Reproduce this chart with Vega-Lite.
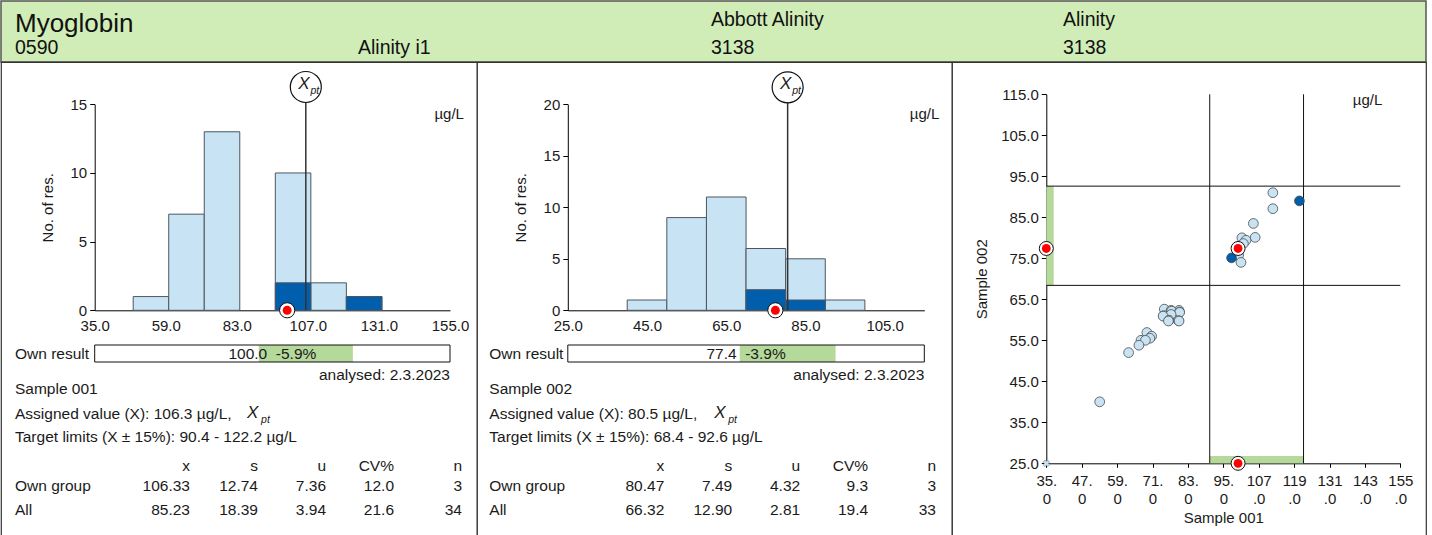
{
 "$schema": "https://vega.github.io/schema/vega-lite/v6.json",
 "padding": 0,
 "background": "white",
 "spacing": 0,
 "bounds": "flush",
 "config": {
  "font": "Liberation Sans",
  "view": {"stroke": null},
  "axis": {"grid": false, "labelFontSize": 15, "titleFontSize": 15, "titleFontWeight": "normal", "labelColor": "#1a1a1a", "titleColor": "#1a1a1a", "domainColor": "#000", "tickColor": "#000", "domainWidth": 1, "tickWidth": 1, "labelFlush": false, "labelOverlap": false, "labelBound": false},
  "text": {"color": "#1a1a1a", "fontSize": 15.5}
 },
 "datasets": {
  "hdr": [
   {"col": 0, "row": 2, "text": "0590"},
   {"col": 1, "row": 2, "text": "Alinity i1"},
   {"col": 2, "row": 1, "text": "Abbott Alinity"},
   {"col": 2, "row": 2, "text": "3138"},
   {"col": 3, "row": 1, "text": "Alinity"},
   {"col": 3, "row": 2, "text": "3138"}
  ],
  "analyte": [{"name": "Myoglobin"}],
  "bins1": [
   {"lo": 48, "hi": 60, "n": 1, "grp": "All"},
   {"lo": 60, "hi": 72, "n": 7, "grp": "All"},
   {"lo": 72, "hi": 84, "n": 13, "grp": "All"},
   {"lo": 96, "hi": 108, "n": 10, "grp": "All"},
   {"lo": 108, "hi": 120, "n": 2, "grp": "All"},
   {"lo": 120, "hi": 132, "n": 1, "grp": "All"},
   {"lo": 96, "hi": 108, "n": 2, "grp": "Own"},
   {"lo": 120, "hi": 132, "n": 1, "grp": "Own"}
  ],
  "bins2": [
   {"lo": 40, "hi": 50, "n": 1, "grp": "All"},
   {"lo": 50, "hi": 60, "n": 9, "grp": "All"},
   {"lo": 60, "hi": 70, "n": 11, "grp": "All"},
   {"lo": 70, "hi": 80, "n": 6, "grp": "All"},
   {"lo": 80, "hi": 90, "n": 5, "grp": "All"},
   {"lo": 90, "hi": 100, "n": 1, "grp": "All"},
   {"lo": 70, "hi": 80, "n": 2, "grp": "Own"},
   {"lo": 80, "hi": 90, "n": 1, "grp": "Own"}
  ],
  "info1": [{"xpt": 106.3, "own": 100.0, "lo": 90.4, "hi": 122.2, "result": "100.0\u00a0\u00a0-5.9%", "analysed": "analysed: 2.3.2023", "unit": "µg/L"}],
  "info2": [{"xpt": 80.5, "own": 77.4, "lo": 68.4, "hi": 92.6, "result": "77.4\u00a0\u00a0-3.9%", "analysed": "analysed: 2.3.2023", "unit": "µg/L"}],
  "lines1": [
   {"line": 1, "col": 0, "text": "Own result"},
   {"line": 3, "col": 0, "text": "Sample 001"},
   {"line": 4, "col": 0, "text": "Assigned value (X): 106.3 µg/L,"},
   {"line": 5, "col": 0, "text": "Target limits (X ± 15%): 90.4 - 122.2 µg/L"},
   {"line": 7, "col": 0, "text": "Own group"},
   {"line": 8, "col": 0, "text": "All"}
  ],
  "lines2": [
   {"line": 1, "col": 0, "text": "Own result"},
   {"line": 3, "col": 0, "text": "Sample 002"},
   {"line": 4, "col": 0, "text": "Assigned value (X): 80.5 µg/L,"},
   {"line": 5, "col": 0, "text": "Target limits (X ± 15%): 68.4 - 92.6 µg/L"},
   {"line": 7, "col": 0, "text": "Own group"},
   {"line": 8, "col": 0, "text": "All"}
  ],
  "table1": [
   {"line": 6, "col": 1, "text": "x"}, {"line": 6, "col": 2, "text": "s"}, {"line": 6, "col": 3, "text": "u"}, {"line": 6, "col": 4, "text": "CV%"}, {"line": 6, "col": 5, "text": "n"},
   {"line": 7, "col": 1, "text": "106.33"}, {"line": 7, "col": 2, "text": "12.74"}, {"line": 7, "col": 3, "text": "7.36"}, {"line": 7, "col": 4, "text": "12.0"}, {"line": 7, "col": 5, "text": "3"},
   {"line": 8, "col": 1, "text": "85.23"}, {"line": 8, "col": 2, "text": "18.39"}, {"line": 8, "col": 3, "text": "3.94"}, {"line": 8, "col": 4, "text": "21.6"}, {"line": 8, "col": 5, "text": "34"}
  ],
  "table2": [
   {"line": 6, "col": 1, "text": "x"}, {"line": 6, "col": 2, "text": "s"}, {"line": 6, "col": 3, "text": "u"}, {"line": 6, "col": 4, "text": "CV%"}, {"line": 6, "col": 5, "text": "n"},
   {"line": 7, "col": 1, "text": "80.47"}, {"line": 7, "col": 2, "text": "7.49"}, {"line": 7, "col": 3, "text": "4.32"}, {"line": 7, "col": 4, "text": "9.3"}, {"line": 7, "col": 5, "text": "3"},
   {"line": 8, "col": 1, "text": "66.32"}, {"line": 8, "col": 2, "text": "12.90"}, {"line": 8, "col": 3, "text": "2.81"}, {"line": 8, "col": 4, "text": "19.4"}, {"line": 8, "col": 5, "text": "33"}
  ],
  "lims": [{"lo1": 90.4, "hi1": 122.2, "lo2": 68.4, "hi2": 92.6, "unit": "µg/L"}],
  "vlim": [{"v": 90.4}, {"v": 122.2}],
  "hlim": [{"v": 68.4}, {"v": 92.6}],
  "pts": [
   {"s1": 111.8, "s2": 91.0, "grp": "All"},
   {"s1": 111.8, "s2": 87.1, "grp": "All"},
   {"s1": 105.2, "s2": 83.5, "grp": "All"},
   {"s1": 105.8, "s2": 80.1, "grp": "All"},
   {"s1": 101.3, "s2": 80.0, "grp": "All"},
   {"s1": 102.7, "s2": 79.4, "grp": "All"},
   {"s1": 101.8, "s2": 78.6, "grp": "All"},
   {"s1": 100.2, "s2": 75.8, "grp": "All"},
   {"s1": 101.0, "s2": 74.0, "grp": "All"},
   {"s1": 75.0, "s2": 62.6, "grp": "All"},
   {"s1": 77.3, "s2": 62.3, "grp": "All"},
   {"s1": 80.0, "s2": 62.3, "grp": "All"},
   {"s1": 77.5, "s2": 62.1, "grp": "All"},
   {"s1": 80.1, "s2": 61.9, "grp": "All"},
   {"s1": 80.2, "s2": 61.8, "grp": "All"},
   {"s1": 74.8, "s2": 61.0, "grp": "All"},
   {"s1": 77.3, "s2": 61.3, "grp": "All"},
   {"s1": 74.6, "s2": 60.9, "grp": "All"},
   {"s1": 79.8, "s2": 59.8, "grp": "All"},
   {"s1": 76.6, "s2": 59.9, "grp": "All"},
   {"s1": 76.4, "s2": 59.7, "grp": "All"},
   {"s1": 80.0, "s2": 59.7, "grp": "All"},
   {"s1": 69.1, "s2": 56.9, "grp": "All"},
   {"s1": 70.7, "s2": 56.0, "grp": "All"},
   {"s1": 70.1, "s2": 55.5, "grp": "All"},
   {"s1": 67.1, "s2": 55.0, "grp": "All"},
   {"s1": 68.6, "s2": 55.0, "grp": "All"},
   {"s1": 66.4, "s2": 53.8, "grp": "All"},
   {"s1": 62.9, "s2": 52.0, "grp": "All"},
   {"s1": 53.1, "s2": 40.0, "grp": "All"},
   {"s1": 97.8, "s2": 75.1, "grp": "Own"},
   {"s1": 120.8, "s2": 89.0, "grp": "Own"}
  ],
  "oor": [{"s1": 35, "s2": 25}],
  "ownsc": [{"s1": 100.0, "s2": 77.4}, {"s1": 35, "s2": 77.4}, {"s1": 100.0, "s2": 25}]
 },
 "vconcat": [
  {
   "width": 1425, "height": 61,
   "view": {"fill": "#d0edb7", "stroke": "#555", "strokeWidth": 1.5},
   "layer": [
    {"data": {"name": "hdr"}, "mark": {"type": "text", "align": "left", "baseline": "alphabetic", "fontSize": 19.5, "color": "#111"},
     "encoding": {
      "x": {"field": "col", "type": "quantitative", "scale": {"domain": [0, 1, 2, 3], "range": [14, 357, 710, 1062], "nice": false, "zero": false}, "axis": null},
      "y": {"field": "row", "type": "quantitative", "scale": {"domain": [1, 2], "range": [25, 53], "nice": false, "zero": false}, "axis": null},
      "text": {"field": "text"}}},
    {"data": {"name": "analyte"}, "mark": {"type": "text", "align": "left", "baseline": "alphabetic", "fontSize": 26, "color": "#111"},
     "encoding": {
      "x": {"datum": 0, "scale": {"domain": [0, 1, 2, 3], "range": [14, 357, 710, 1062], "nice": false, "zero": false}, "axis": null},
      "y": {"datum": 1.23, "scale": {"domain": [1, 2], "range": [25, 53], "nice": false, "zero": false}, "axis": null},
      "text": {"field": "name"}}}
   ]
  },
  {
   "spacing": 0,
   "bounds": "flush",
   "hconcat": [
    {
     "width": 476, "height": 474,
     "view": {"stroke": "#333", "strokeWidth": 1.2, "fill": "white"},
     "resolve": {"scale": {"x": "independent", "y": "independent"}},
     "layer": [
      {"layer": [
       {"data": {"name": "bins1"}, "mark": {"type": "rect", "stroke": "#4b5660", "strokeWidth": 1},
        "encoding": {
         "x": {"field": "lo", "type": "quantitative", "scale": {"domain": [35, 155], "range": [93.7, 449], "nice": false, "zero": false},
               "axis": {"orient": "bottom", "offset": -225.7, "values": [35, 59, 83, 107, 131, 155], "format": ".1f", "ticks": false, "labelPadding": 8, "title": null}},
         "x2": {"field": "hi"},
         "y": {"field": "n", "type": "quantitative", "scale": {"domain": [0, 15], "range": [248.3, 42.3], "nice": false, "zero": false},
               "axis": {"orient": "left", "offset": -93.7, "values": [0, 5, 10, 15], "format": "d", "tickSize": 5, "labelPadding": 3, "title": "No. of res.", "titlePadding": 15}},
         "y2": {"datum": 0},
         "color": {"field": "grp", "type": "nominal", "scale": {"domain": ["All", "Own"], "range": ["#c8e4f4", "#005eac"]}, "legend": null}}},
       {"data": {"name": "info1"}, "mark": {"type": "rule", "color": "#333", "strokeWidth": 1.5},
        "encoding": {
         "x": {"field": "xpt", "type": "quantitative", "scale": {"domain": [35, 155], "range": [93.7, 449], "nice": false, "zero": false}},
         "y": {"datum": 0, "scale": {"domain": [0, 15], "range": [248.3, 42.3], "nice": false, "zero": false}},
         "y2": {"datum": 16.26}}},
       {"data": {"name": "info1"}, "mark": {"type": "point", "shape": "circle", "filled": true, "fill": "white", "stroke": "#111", "strokeWidth": 1.2, "size": 960, "opacity": 1},
        "encoding": {
         "x": {"field": "xpt", "type": "quantitative", "scale": {"domain": [35, 155], "range": [93.7, 449], "nice": false, "zero": false}},
         "y": {"datum": 16.26, "scale": {"domain": [0, 15], "range": [248.3, 42.3], "nice": false, "zero": false}}}},
       {"data": {"name": "info1"}, "mark": {"type": "text", "text": "X", "fontStyle": "italic", "fontSize": 17, "dx": -2, "dy": -3, "align": "center", "baseline": "middle"},
        "encoding": {
         "x": {"field": "xpt", "type": "quantitative", "scale": {"domain": [35, 155], "range": [93.7, 449], "nice": false, "zero": false}},
         "y": {"datum": 16.26, "scale": {"domain": [0, 15], "range": [248.3, 42.3], "nice": false, "zero": false}}}},
       {"data": {"name": "info1"}, "mark": {"type": "text", "text": "pt", "fontStyle": "italic", "fontSize": 10.5, "dx": 9, "dy": 4, "align": "center", "baseline": "middle"},
        "encoding": {
         "x": {"field": "xpt", "type": "quantitative", "scale": {"domain": [35, 155], "range": [93.7, 449], "nice": false, "zero": false}},
         "y": {"datum": 16.26, "scale": {"domain": [0, 15], "range": [248.3, 42.3], "nice": false, "zero": false}}}},
       {"data": {"name": "info1"}, "mark": {"type": "text", "align": "right", "baseline": "middle", "fontSize": 15},
        "encoding": {
         "x": {"datum": 159.7, "scale": {"domain": [35, 155], "range": [93.7, 449], "nice": false, "zero": false}},
         "y": {"datum": 14.29, "scale": {"domain": [0, 15], "range": [248.3, 42.3], "nice": false, "zero": false}},
         "text": {"field": "unit"}}},
       {"data": {"name": "info1"}, "mark": {"type": "point", "shape": "circle", "filled": true, "fill": "white", "stroke": "#111", "strokeWidth": 1, "size": 230, "opacity": 1},
        "encoding": {
         "x": {"field": "own", "type": "quantitative", "scale": {"domain": [35, 155], "range": [93.7, 449], "nice": false, "zero": false}},
         "y": {"datum": 0, "scale": {"domain": [0, 15], "range": [248.3, 42.3], "nice": false, "zero": false}}}},
       {"data": {"name": "info1"}, "mark": {"type": "point", "shape": "circle", "filled": true, "fill": "#ff0000", "strokeWidth": 0, "size": 80, "opacity": 1},
        "encoding": {
         "x": {"field": "own", "type": "quantitative", "scale": {"domain": [35, 155], "range": [93.7, 449], "nice": false, "zero": false}},
         "y": {"datum": 0, "scale": {"domain": [0, 15], "range": [248.3, 42.3], "nice": false, "zero": false}}}}
      ]},
      {"layer": [
       {"data": {"name": "info1"}, "mark": {"type": "rect", "fill": "white"},
        "encoding": {
         "x": {"datum": 35, "scale": {"domain": [35, 155], "range": [93.7, 449], "nice": false, "zero": false}, "axis": null},
         "x2": {"datum": 155},
         "y": {"datum": 0.5, "scale": {"domain": [0.5, 1, 1.5, 2, 3, 4, 5, 6, 7, 8], "range": [283, 291.5, 300, 313.2, 326.7, 352.3, 374.7, 404, 423.7, 447.7], "nice": false, "zero": false}, "axis": null},
         "y2": {"datum": 1.5}}},
       {"data": {"name": "info1"}, "mark": {"type": "rect", "fill": "#b5d89b"},
        "encoding": {
         "x": {"field": "lo", "type": "quantitative", "scale": {"domain": [35, 155], "range": [93.7, 449], "nice": false, "zero": false}, "axis": null},
         "x2": {"field": "hi"},
         "y": {"datum": 0.5, "scale": {"domain": [0.5, 1, 1.5, 2, 3, 4, 5, 6, 7, 8], "range": [283, 291.5, 300, 313.2, 326.7, 352.3, 374.7, 404, 423.7, 447.7], "nice": false, "zero": false}, "axis": null},
         "y2": {"datum": 1.5}}},
       {"data": {"name": "info1"}, "mark": {"type": "text", "align": "center", "baseline": "middle"},
        "encoding": {
         "x": {"datum": 95, "scale": {"domain": [35, 155], "range": [93.7, 449], "nice": false, "zero": false}, "axis": null},
         "y": {"datum": 1, "scale": {"domain": [0.5, 1, 1.5, 2, 3, 4, 5, 6, 7, 8], "range": [283, 291.5, 300, 313.2, 326.7, 352.3, 374.7, 404, 423.7, 447.7], "nice": false, "zero": false}, "axis": null},
         "text": {"field": "result"}}},
       {"data": {"name": "info1"}, "mark": {"type": "rect", "filled": false, "stroke": "#111", "strokeWidth": 1},
        "encoding": {
         "x": {"datum": 35, "scale": {"domain": [35, 155], "range": [93.7, 449], "nice": false, "zero": false}, "axis": null},
         "x2": {"datum": 155},
         "y": {"datum": 0.5, "scale": {"domain": [0.5, 1, 1.5, 2, 3, 4, 5, 6, 7, 8], "range": [283, 291.5, 300, 313.2, 326.7, 352.3, 374.7, 404, 423.7, 447.7], "nice": false, "zero": false}, "axis": null},
         "y2": {"datum": 1.5}}},
       {"data": {"name": "info1"}, "mark": {"type": "text", "align": "right", "baseline": "middle"},
        "encoding": {
         "x": {"datum": 155, "scale": {"domain": [35, 155], "range": [93.7, 449], "nice": false, "zero": false}, "axis": null},
         "y": {"datum": 2, "scale": {"domain": [0.5, 1, 1.5, 2, 3, 4, 5, 6, 7, 8], "range": [283, 291.5, 300, 313.2, 326.7, 352.3, 374.7, 404, 423.7, 447.7], "nice": false, "zero": false}, "axis": null},
         "text": {"field": "analysed"}}}
      ]},
      {"layer": [
       {"data": {"name": "lines1"}, "mark": {"type": "text", "align": "left", "baseline": "middle"},
        "encoding": {
         "x": {"field": "col", "type": "quantitative", "scale": {"domain": [0, 1, 5], "range": [14, 189, 461], "nice": false, "zero": false}, "axis": null},
         "y": {"field": "line", "type": "quantitative", "scale": {"domain": [0.5, 1, 1.5, 2, 3, 4, 5, 6, 7, 8], "range": [283, 291.5, 300, 313.2, 326.7, 352.3, 374.7, 404, 423.7, 447.7], "nice": false, "zero": false}, "axis": null},
         "text": {"field": "text"}}},
       {"data": {"name": "table1"}, "mark": {"type": "text", "align": "right", "baseline": "middle"},
        "encoding": {
         "x": {"field": "col", "type": "quantitative", "scale": {"domain": [0, 1, 5], "range": [14, 189, 461], "nice": false, "zero": false}, "axis": null},
         "y": {"field": "line", "type": "quantitative", "scale": {"domain": [0.5, 1, 1.5, 2, 3, 4, 5, 6, 7, 8], "range": [283, 291.5, 300, 313.2, 326.7, 352.3, 374.7, 404, 423.7, 447.7], "nice": false, "zero": false}, "axis": null},
         "text": {"field": "text"}}},
       {"data": {"name": "info1"}, "mark": {"type": "text", "text": "X", "fontStyle": "italic", "fontSize": 17, "align": "left", "baseline": "middle", "dy": -1},
        "encoding": {
         "x": {"datum": 1.84, "scale": {"domain": [0, 1, 5], "range": [14, 189, 461], "nice": false, "zero": false}, "axis": null},
         "y": {"datum": 4, "scale": {"domain": [0.5, 1, 1.5, 2, 3, 4, 5, 6, 7, 8], "range": [283, 291.5, 300, 313.2, 326.7, 352.3, 374.7, 404, 423.7, 447.7], "nice": false, "zero": false}, "axis": null}}},
       {"data": {"name": "info1"}, "mark": {"type": "text", "text": "pt", "fontStyle": "italic", "fontSize": 10.5, "align": "left", "baseline": "middle", "dx": 14, "dy": 6},
        "encoding": {
         "x": {"datum": 1.84, "scale": {"domain": [0, 1, 5], "range": [14, 189, 461], "nice": false, "zero": false}, "axis": null},
         "y": {"datum": 4, "scale": {"domain": [0.5, 1, 1.5, 2, 3, 4, 5, 6, 7, 8], "range": [283, 291.5, 300, 313.2, 326.7, 352.3, 374.7, 404, 423.7, 447.7], "nice": false, "zero": false}, "axis": null}}}
      ]}
     ]
    },
    {
     "width": 475, "height": 474,
     "view": {"stroke": "#333", "strokeWidth": 1.2, "fill": "white"},
     "resolve": {"scale": {"x": "independent", "y": "independent"}},
     "layer": [
      {"layer": [
       {"data": {"name": "bins2"}, "mark": {"type": "rect", "stroke": "#4b5660", "strokeWidth": 1},
        "encoding": {
         "x": {"field": "lo", "type": "quantitative", "scale": {"domain": [25, 115], "range": [90.8, 447.3], "nice": false, "zero": false},
               "axis": {"orient": "bottom", "offset": -225.7, "values": [25, 45, 65, 85, 105], "format": ".1f", "ticks": false, "labelPadding": 8, "title": null}},
         "x2": {"field": "hi"},
         "y": {"field": "n", "type": "quantitative", "scale": {"domain": [0, 20], "range": [248.3, 42.3], "nice": false, "zero": false},
               "axis": {"orient": "left", "offset": -90.8, "values": [0, 5, 10, 15, 20], "format": "d", "tickSize": 5, "labelPadding": 3, "title": "No. of res.", "titlePadding": 14.5}},
         "y2": {"datum": 0},
         "color": {"field": "grp", "type": "nominal", "scale": {"domain": ["All", "Own"], "range": ["#c8e4f4", "#005eac"]}, "legend": null}}},
       {"data": {"name": "info2"}, "mark": {"type": "rule", "color": "#333", "strokeWidth": 1.5},
        "encoding": {
         "x": {"field": "xpt", "type": "quantitative", "scale": {"domain": [25, 115], "range": [90.8, 447.3], "nice": false, "zero": false}},
         "y": {"datum": 0, "scale": {"domain": [0, 20], "range": [248.3, 42.3], "nice": false, "zero": false}},
         "y2": {"datum": 21.65}}},
       {"data": {"name": "info2"}, "mark": {"type": "point", "shape": "circle", "filled": true, "fill": "white", "stroke": "#111", "strokeWidth": 1.2, "size": 960, "opacity": 1},
        "encoding": {
         "x": {"field": "xpt", "type": "quantitative", "scale": {"domain": [25, 115], "range": [90.8, 447.3], "nice": false, "zero": false}},
         "y": {"datum": 21.65, "scale": {"domain": [0, 20], "range": [248.3, 42.3], "nice": false, "zero": false}}}},
       {"data": {"name": "info2"}, "mark": {"type": "text", "text": "X", "fontStyle": "italic", "fontSize": 17, "dx": -2, "dy": -3, "align": "center", "baseline": "middle"},
        "encoding": {
         "x": {"field": "xpt", "type": "quantitative", "scale": {"domain": [25, 115], "range": [90.8, 447.3], "nice": false, "zero": false}},
         "y": {"datum": 21.65, "scale": {"domain": [0, 20], "range": [248.3, 42.3], "nice": false, "zero": false}}}},
       {"data": {"name": "info2"}, "mark": {"type": "text", "text": "pt", "fontStyle": "italic", "fontSize": 10.5, "dx": 9, "dy": 4, "align": "center", "baseline": "middle"},
        "encoding": {
         "x": {"field": "xpt", "type": "quantitative", "scale": {"domain": [25, 115], "range": [90.8, 447.3], "nice": false, "zero": false}},
         "y": {"datum": 21.65, "scale": {"domain": [0, 20], "range": [248.3, 42.3], "nice": false, "zero": false}}}},
       {"data": {"name": "info2"}, "mark": {"type": "text", "align": "right", "baseline": "middle", "fontSize": 15},
        "encoding": {
         "x": {"datum": 118.8, "scale": {"domain": [25, 115], "range": [90.8, 447.3], "nice": false, "zero": false}},
         "y": {"datum": 19.06, "scale": {"domain": [0, 20], "range": [248.3, 42.3], "nice": false, "zero": false}},
         "text": {"field": "unit"}}},
       {"data": {"name": "info2"}, "mark": {"type": "point", "shape": "circle", "filled": true, "fill": "white", "stroke": "#111", "strokeWidth": 1, "size": 230, "opacity": 1},
        "encoding": {
         "x": {"field": "own", "type": "quantitative", "scale": {"domain": [25, 115], "range": [90.8, 447.3], "nice": false, "zero": false}},
         "y": {"datum": 0, "scale": {"domain": [0, 20], "range": [248.3, 42.3], "nice": false, "zero": false}}}},
       {"data": {"name": "info2"}, "mark": {"type": "point", "shape": "circle", "filled": true, "fill": "#ff0000", "strokeWidth": 0, "size": 80, "opacity": 1},
        "encoding": {
         "x": {"field": "own", "type": "quantitative", "scale": {"domain": [25, 115], "range": [90.8, 447.3], "nice": false, "zero": false}},
         "y": {"datum": 0, "scale": {"domain": [0, 20], "range": [248.3, 42.3], "nice": false, "zero": false}}}}
      ]},
      {"layer": [
       {"data": {"name": "info2"}, "mark": {"type": "rect", "fill": "white"},
        "encoding": {
         "x": {"datum": 25, "scale": {"domain": [25, 115], "range": [90.8, 447.3], "nice": false, "zero": false}, "axis": null},
         "x2": {"datum": 115},
         "y": {"datum": 0.5, "scale": {"domain": [0.5, 1, 1.5, 2, 3, 4, 5, 6, 7, 8], "range": [283, 291.5, 300, 313.2, 326.7, 352.3, 374.7, 404, 423.7, 447.7], "nice": false, "zero": false}, "axis": null},
         "y2": {"datum": 1.5}}},
       {"data": {"name": "info2"}, "mark": {"type": "rect", "fill": "#b5d89b"},
        "encoding": {
         "x": {"field": "lo", "type": "quantitative", "scale": {"domain": [25, 115], "range": [90.8, 447.3], "nice": false, "zero": false}, "axis": null},
         "x2": {"field": "hi"},
         "y": {"datum": 0.5, "scale": {"domain": [0.5, 1, 1.5, 2, 3, 4, 5, 6, 7, 8], "range": [283, 291.5, 300, 313.2, 326.7, 352.3, 374.7, 404, 423.7, 447.7], "nice": false, "zero": false}, "axis": null},
         "y2": {"datum": 1.5}}},
       {"data": {"name": "info2"}, "mark": {"type": "text", "align": "center", "baseline": "middle"},
        "encoding": {
         "x": {"datum": 70, "scale": {"domain": [25, 115], "range": [90.8, 447.3], "nice": false, "zero": false}, "axis": null},
         "y": {"datum": 1, "scale": {"domain": [0.5, 1, 1.5, 2, 3, 4, 5, 6, 7, 8], "range": [283, 291.5, 300, 313.2, 326.7, 352.3, 374.7, 404, 423.7, 447.7], "nice": false, "zero": false}, "axis": null},
         "text": {"field": "result"}}},
       {"data": {"name": "info2"}, "mark": {"type": "rect", "filled": false, "stroke": "#111", "strokeWidth": 1},
        "encoding": {
         "x": {"datum": 25, "scale": {"domain": [25, 115], "range": [90.8, 447.3], "nice": false, "zero": false}, "axis": null},
         "x2": {"datum": 115},
         "y": {"datum": 0.5, "scale": {"domain": [0.5, 1, 1.5, 2, 3, 4, 5, 6, 7, 8], "range": [283, 291.5, 300, 313.2, 326.7, 352.3, 374.7, 404, 423.7, 447.7], "nice": false, "zero": false}, "axis": null},
         "y2": {"datum": 1.5}}},
       {"data": {"name": "info2"}, "mark": {"type": "text", "align": "right", "baseline": "middle"},
        "encoding": {
         "x": {"datum": 115, "scale": {"domain": [25, 115], "range": [90.8, 447.3], "nice": false, "zero": false}, "axis": null},
         "y": {"datum": 2, "scale": {"domain": [0.5, 1, 1.5, 2, 3, 4, 5, 6, 7, 8], "range": [283, 291.5, 300, 313.2, 326.7, 352.3, 374.7, 404, 423.7, 447.7], "nice": false, "zero": false}, "axis": null},
         "text": {"field": "analysed"}}}
      ]},
      {"layer": [
       {"data": {"name": "lines2"}, "mark": {"type": "text", "align": "left", "baseline": "middle"},
        "encoding": {
         "x": {"field": "col", "type": "quantitative", "scale": {"domain": [0, 1, 5], "range": [12.3, 187.3, 459], "nice": false, "zero": false}, "axis": null},
         "y": {"field": "line", "type": "quantitative", "scale": {"domain": [0.5, 1, 1.5, 2, 3, 4, 5, 6, 7, 8], "range": [283, 291.5, 300, 313.2, 326.7, 352.3, 374.7, 404, 423.7, 447.7], "nice": false, "zero": false}, "axis": null},
         "text": {"field": "text"}}},
       {"data": {"name": "table2"}, "mark": {"type": "text", "align": "right", "baseline": "middle"},
        "encoding": {
         "x": {"field": "col", "type": "quantitative", "scale": {"domain": [0, 1, 5], "range": [12.3, 187.3, 459], "nice": false, "zero": false}, "axis": null},
         "y": {"field": "line", "type": "quantitative", "scale": {"domain": [0.5, 1, 1.5, 2, 3, 4, 5, 6, 7, 8], "range": [283, 291.5, 300, 313.2, 326.7, 352.3, 374.7, 404, 423.7, 447.7], "nice": false, "zero": false}, "axis": null},
         "text": {"field": "text"}}},
       {"data": {"name": "info2"}, "mark": {"type": "text", "text": "X", "fontStyle": "italic", "fontSize": 17, "align": "left", "baseline": "middle", "dy": -1},
        "encoding": {
         "x": {"datum": 1.735, "scale": {"domain": [0, 1, 5], "range": [12.3, 187.3, 459], "nice": false, "zero": false}, "axis": null},
         "y": {"datum": 4, "scale": {"domain": [0.5, 1, 1.5, 2, 3, 4, 5, 6, 7, 8], "range": [283, 291.5, 300, 313.2, 326.7, 352.3, 374.7, 404, 423.7, 447.7], "nice": false, "zero": false}, "axis": null}}},
       {"data": {"name": "info2"}, "mark": {"type": "text", "text": "pt", "fontStyle": "italic", "fontSize": 10.5, "align": "left", "baseline": "middle", "dx": 14, "dy": 6},
        "encoding": {
         "x": {"datum": 1.735, "scale": {"domain": [0, 1, 5], "range": [12.3, 187.3, 459], "nice": false, "zero": false}, "axis": null},
         "y": {"datum": 4, "scale": {"domain": [0.5, 1, 1.5, 2, 3, 4, 5, 6, 7, 8], "range": [283, 291.5, 300, 313.2, 326.7, 352.3, 374.7, 404, 423.7, 447.7], "nice": false, "zero": false}, "axis": null}}}
      ]}
     ]
    },
    {
     "width": 474, "height": 474,
     "view": {"stroke": "#333", "strokeWidth": 1.2, "fill": "white"},
     "layer": [
      {"data": {"name": "lims"}, "mark": {"type": "rect", "fill": "#b5d89b"},
       "encoding": {
        "x": {"datum": 35, "scale": {"domain": [35, 155], "range": [94.3, 448.3], "nice": false, "zero": false}},
        "x2": {"datum": 37.5},
        "y": {"field": "lo2", "type": "quantitative", "scale": {"domain": [25, 115], "range": [401.3, 32.3], "nice": false, "zero": false}},
        "y2": {"field": "hi2"}}},
      {"data": {"name": "lims"}, "mark": {"type": "rect", "fill": "#b5d89b"},
       "encoding": {
        "x": {"field": "lo1", "type": "quantitative", "scale": {"domain": [35, 155], "range": [94.3, 448.3], "nice": false, "zero": false}},
        "x2": {"field": "hi1"},
        "y": {"datum": 25, "scale": {"domain": [25, 115], "range": [401.3, 32.3], "nice": false, "zero": false}},
        "y2": {"datum": 26.8}}},
      {"data": {"name": "vlim"}, "mark": {"type": "rule", "color": "#111", "strokeWidth": 1},
       "encoding": {
        "x": {"field": "v", "type": "quantitative", "scale": {"domain": [35, 155], "range": [94.3, 448.3], "nice": false, "zero": false}},
        "y": {"datum": 25, "scale": {"domain": [25, 115], "range": [401.3, 32.3], "nice": false, "zero": false}},
        "y2": {"datum": 115}}},
      {"data": {"name": "hlim"}, "mark": {"type": "rule", "color": "#111", "strokeWidth": 1},
       "encoding": {
        "y": {"field": "v", "type": "quantitative", "scale": {"domain": [25, 115], "range": [401.3, 32.3], "nice": false, "zero": false}},
        "x": {"datum": 35, "scale": {"domain": [35, 155], "range": [94.3, 448.3], "nice": false, "zero": false}},
        "x2": {"datum": 155}}},
      {"data": {"name": "pts"}, "mark": {"type": "point", "shape": "circle", "filled": true, "stroke": "#4a4a4a", "strokeWidth": 0.8, "size": 95, "opacity": 1},
       "encoding": {
        "x": {"field": "s1", "type": "quantitative", "scale": {"domain": [35, 155], "range": [94.3, 448.3], "nice": false, "zero": false},
              "axis": {"orient": "bottom", "offset": -72.7, "values": [35, 47, 59, 71, 83, 95, 107, 119, 131, 143, 155], "format": ".1f", "labelExpr": "[substring(datum.label, 0, 3), substring(datum.label, 3)]", "tickSize": 4, "labelPadding": 6, "labelLineHeight": 18, "title": "Sample 001", "titlePadding": 4}},
        "y": {"field": "s2", "type": "quantitative", "scale": {"domain": [25, 115], "range": [401.3, 32.3], "nice": false, "zero": false},
              "axis": {"orient": "left", "offset": -94.3, "values": [25, 35, 45, 55, 65, 75, 85, 95, 105, 115], "format": ".1f", "tickSize": 5, "labelPadding": 3, "title": "Sample 002", "titlePadding": 11}},
        "color": {"field": "grp", "type": "nominal", "scale": {"domain": ["All", "Own"], "range": ["#c8e4f4", "#005eac"]}, "legend": null}}},
      {"data": {"name": "oor"}, "mark": {"type": "point", "shape": "cross", "angle": 45, "filled": true, "fill": "#c8e4f4", "stroke": "#7a8a96", "strokeWidth": 0.6, "size": 45, "opacity": 1},
       "encoding": {
        "x": {"field": "s1", "type": "quantitative", "scale": {"domain": [35, 155], "range": [94.3, 448.3], "nice": false, "zero": false}},
        "y": {"field": "s2", "type": "quantitative", "scale": {"domain": [25, 115], "range": [401.3, 32.3], "nice": false, "zero": false}}}},
      {"data": {"name": "ownsc"}, "mark": {"type": "point", "shape": "circle", "filled": true, "fill": "white", "stroke": "#111", "strokeWidth": 1, "size": 195, "opacity": 1},
       "encoding": {
        "x": {"field": "s1", "type": "quantitative", "scale": {"domain": [35, 155], "range": [94.3, 448.3], "nice": false, "zero": false}},
        "y": {"field": "s2", "type": "quantitative", "scale": {"domain": [25, 115], "range": [401.3, 32.3], "nice": false, "zero": false}}}},
      {"data": {"name": "ownsc"}, "mark": {"type": "point", "shape": "circle", "filled": true, "fill": "#ff0000", "strokeWidth": 0, "size": 78, "opacity": 1},
       "encoding": {
        "x": {"field": "s1", "type": "quantitative", "scale": {"domain": [35, 155], "range": [94.3, 448.3], "nice": false, "zero": false}},
        "y": {"field": "s2", "type": "quantitative", "scale": {"domain": [25, 115], "range": [401.3, 32.3], "nice": false, "zero": false}}}},
      {"data": {"name": "lims"}, "mark": {"type": "text", "align": "center", "baseline": "middle", "fontSize": 15},
       "encoding": {
        "x": {"datum": 143.9, "scale": {"domain": [35, 155], "range": [94.3, 448.3], "nice": false, "zero": false}},
        "y": {"datum": 113.5, "scale": {"domain": [25, 115], "range": [401.3, 32.3], "nice": false, "zero": false}},
        "text": {"field": "unit"}}}
     ]
    }
   ]
  }
 ]
}
